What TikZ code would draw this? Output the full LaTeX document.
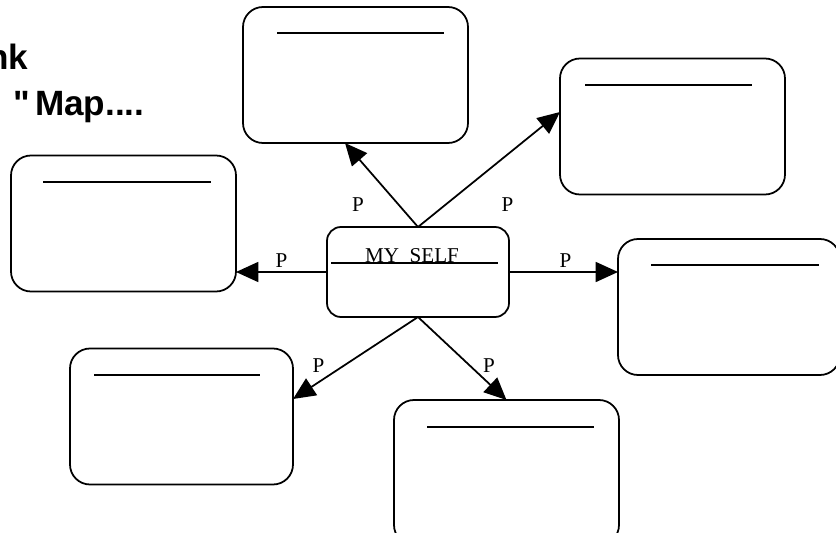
\documentclass[tikz,border=0pt]{standalone}
\usepackage{fontspec}
\setmainfont{Liberation Serif}
\newfontfamily\headfont{Liberation Sans}
\usetikzlibrary{arrows.meta}
\tikzset{
  box/.style={draw, rounded corners=.6cm, minimum width=6.75cm, minimum height=4.08cm, inner sep=0pt, outer sep=0pt},
  plab/.style={anchor=base, inner sep=0pt, font=\fontsize{18}{21}\selectfont},
  head/.style={inner sep=0pt, font=\headfont\bfseries\fontsize{30}{36}\selectfont},
  link/.style={-{Triangle[length=19pt,width=17pt]}}
}
\begin{document}
\begin{tikzpicture}[x=.03cm,y=-.03cm,line width=1.5pt]
  \useasboundingbox (0,0) rectangle (836,533);
  \clip (0,0) rectangle (836,533);
  % title, cut off at the left edge
  \node[head,anchor=base east] (h1) at (29,69) {nk};
  \node[head,anchor=base west] (h2) at (13,115) {"\kern-.15em\ Map....};
  % boxes
  \node[box] (T) at (355.5,75) {};
  \node[box] (TR) at (672.5,126.5) {};
  \node[box,minimum width=6.66cm] (R) at (729,307) {};
  \node[box] (L) at (123.5,223.5) {};
  \node[box,minimum width=6.69cm] (BL) at (181.5,416.5) {};
  \node[box,minimum height=4.35cm] (B) at (506.5,472.5) {};
  \node[box,rounded corners=.42cm,minimum width=5.46cm,minimum height=2.7cm] (C) at (418,272) {};
  \node[plab] (me) at (412,262) {MY\ \ SELF};
  % blank lines in the boxes
  \draw (277,33) -- (444,33);
  \draw (585,85) -- (752,85);
  \draw (651,265) -- (819,265);
  \draw (43,182) -- (211,182);
  \draw (94,375) -- (260,375);
  \draw (427,427) -- (594,427);
  \draw (331,263) -- (498,263);
  % links
  \draw[link] (C.north) -- ([xshift=-.315cm]T.south);
  \draw[link] (C.north) -- ([yshift=.435cm]TR.west);
  \draw[link] (C.west) -- (C.west -| L.east);
  \draw[link] (C.east) -- (C.east -| R.west);
  \draw[link] (C.south) -- ([yshift=.525cm]BL.east);
  \draw[link] (C.south) -- (B.north);
  \node[plab] (p1) at (358,211) {P};
  \node[plab] (p2) at (507.5,211) {P};
  \node[plab] (p3) at (281.5,267) {P};
  \node[plab] (p4) at (565.5,267) {P};
  \node[plab] (p5) at (318.5,372) {P};
  \node[plab] (p6) at (489,372) {P};
\end{tikzpicture}
\end{document}
